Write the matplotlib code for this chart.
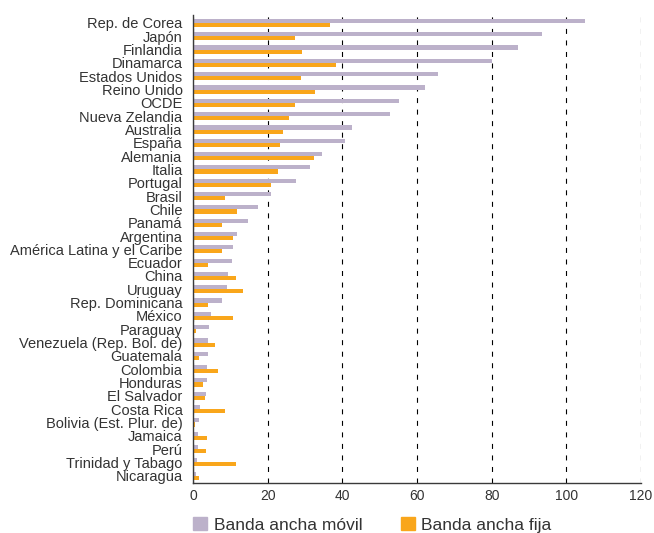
import numpy as np
import matplotlib
matplotlib.use("Agg")
import matplotlib.pyplot as plt
from matplotlib.patches import Patch

plt.rcParams['font.family'] = ['Liberation Sans', 'DejaVu Sans']
plt.rcParams['lines.scale_dashes'] = False

countries = [
    "Rep. de Corea", "Japón", "Finlandia", "Dinamarca", "Estados Unidos",
    "Reino Unido", "OCDE", "Nueva Zelandia", "Australia", "España",
    "Alemania", "Italia", "Portugal", "Brasil", "Chile", "Panamá",
    "Argentina", "América Latina y el Caribe", "Ecuador", "China",
    "Uruguay", "Rep. Dominicana", "México", "Paraguay",
    "Venezuela (Rep. Bol. de)", "Guatemala", "Colombia", "Honduras",
    "El Salvador", "Costa Rica", "Bolivia (Est. Plur. de)", "Jamaica",
    "Perú", "Trinidad y Tabago", "Nicaragua",
]

movil = [
    105.0, 93.5, 87.0, 80.2, 65.5,
    62.2, 55.2, 52.8, 42.7, 40.8,
    34.6, 31.4, 27.5, 20.9, 17.3, 14.7,
    11.8, 10.6, 10.4, 9.5,
    9.0, 7.7, 4.7, 4.3,
    4.1, 4.1, 3.8, 3.8,
    3.5, 2.0, 1.7, 1.4,
    1.4, 1.2, 0.9,
]

fija = [
    36.8, 27.4, 29.3, 38.2, 28.8,
    32.8, 27.4, 25.6, 24.0, 23.4,
    32.5, 22.9, 20.9, 8.6, 11.7, 7.7,
    10.6, 7.7, 4.1, 11.5,
    13.5, 4.1, 10.6, 0.9,
    6.0, 1.7, 6.8, 2.6,
    3.2, 8.6, 0.6, 3.8,
    3.5, 11.5, 1.7,
]

color_movil = "#bcb1ca"
color_fija = "#f9a61b"

fig = plt.figure(figsize=(6.54, 5.33), dpi=100)
ax = fig.add_axes([193 / 654, 50 / 533, 448 / 654, 468 / 533])

y = np.arange(len(countries))
h = 0.31
ax.barh(y - h / 2, movil, height=h, color=color_movil, zorder=3)
ax.barh(y + h / 2, fija, height=h, color=color_fija, zorder=3)

ax.set_xlim(0, 120)
ax.set_ylim(len(countries) - 1 + 0.55, -0.6)
ax.set_xticks(np.arange(0, 121, 20))
ax.set_yticks(y)
ax.set_yticklabels(countries)
ax.grid(axis='x', color='black', linestyle=(0, (3.6, 4.7)), linewidth=0.8, zorder=1)
ax.grid(axis='y', visible=False)

for s in ['top', 'right']:
    ax.spines[s].set_visible(False)
for s in ['left', 'bottom']:
    ax.spines[s].set_color('#3a3a3a')
    ax.spines[s].set_linewidth(1.0)
    ax.spines[s].set_zorder(4)

ax.tick_params(axis='y', length=0, pad=7.5, labelsize=10.5, labelcolor='#333333')
ax.tick_params(axis='x', length=0, pad=4, labelsize=10, labelcolor='#333333')

handles = [Patch(color=color_movil), Patch(color=color_fija)]
fig.legend(handles, ["Banda ancha móvil", "Banda ancha fija"],
           loc='center left', bbox_to_anchor=(193 / 654, 0.015), ncol=2,
           frameon=False, fontsize=12.5, handlelength=0.8, handleheight=0.8,
           handletextpad=0.4, columnspacing=2.2, borderpad=0, borderaxespad=0,
           labelcolor='#333333')

fig.savefig("out.png", dpi=100)
